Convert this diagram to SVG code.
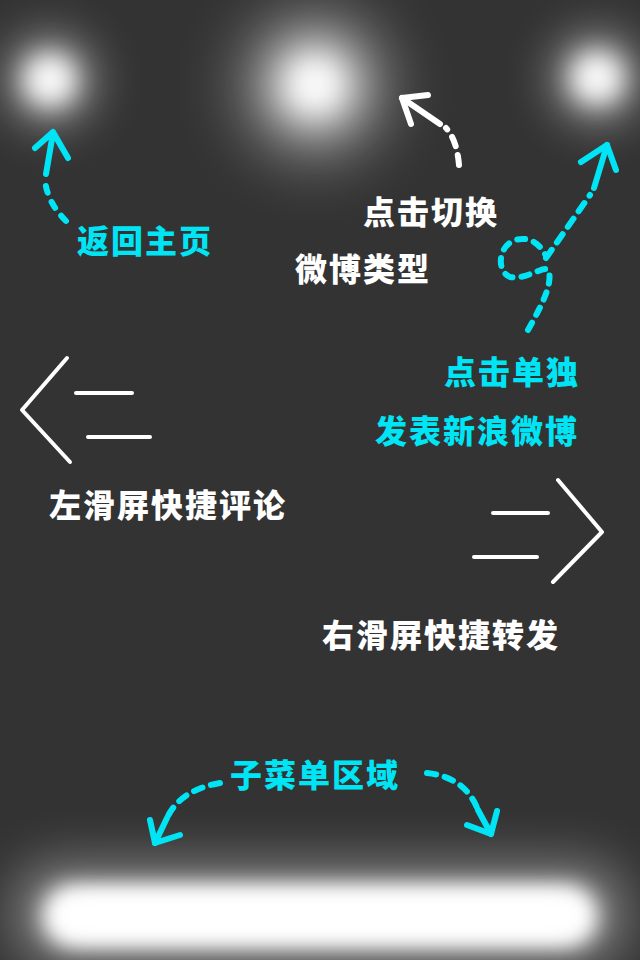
<svg xmlns="http://www.w3.org/2000/svg" width="640" height="960" viewBox="0 0 640 960">
<defs>
<filter id="blurS" x="-200%" y="-200%" width="500%" height="500%"><feGaussianBlur stdDeviation="14"/></filter>
<filter id="blurM" x="-200%" y="-200%" width="500%" height="500%"><feGaussianBlur stdDeviation="22"/></filter>
<filter id="blurL" x="-200%" y="-200%" width="500%" height="500%"><feGaussianBlur stdDeviation="30"/></filter>
<filter id="blurBar" x="-20%" y="-100%" width="140%" height="300%"><feGaussianBlur stdDeviation="11"/></filter>
<filter id="blurHaze" x="-30%" y="-200%" width="160%" height="500%"><feGaussianBlur stdDeviation="25"/></filter>
<style>
.t{font-family:"Noto Sans CJK SC","Noto Sans",sans-serif;font-weight:900;font-size:32px;letter-spacing:2px}
.cy{fill:#00e5f5}
.wh{fill:#ffffff}
.cs{stroke:#00e5f5;stroke-width:6;fill:none;stroke-linecap:round;stroke-linejoin:round}
.ws{stroke:#ffffff;stroke-width:6;fill:none;stroke-linecap:round;stroke-linejoin:round}
.ch{stroke:#ffffff;stroke-width:4;fill:none;stroke-linecap:round;stroke-linejoin:round}
</style>
</defs>
<rect width="640" height="960" fill="#333333"/>
<g id="glows">
<circle cx="50" cy="80" r="50" fill="#fff" opacity="0.35" filter="url(#blurM)"/>
<circle cx="50" cy="80" r="26" fill="#fff" filter="url(#blurS)"/>
<circle cx="50" cy="80" r="12" fill="#fff" filter="url(#blurS)"/>
<circle cx="315" cy="85" r="80" fill="#fff" opacity="0.35" filter="url(#blurL)"/>
<circle cx="315" cy="85" r="40" fill="#fff" filter="url(#blurM)"/>
<circle cx="315" cy="85" r="18" fill="#fff" filter="url(#blurS)"/>
<circle cx="597" cy="78" r="50" fill="#fff" opacity="0.35" filter="url(#blurM)"/>
<circle cx="597" cy="78" r="26" fill="#fff" filter="url(#blurS)"/>
<circle cx="597" cy="78" r="12" fill="#fff" filter="url(#blurS)"/>
<rect x="10" y="860" width="620" height="110" rx="50" fill="#fff" opacity="0.35" filter="url(#blurHaze)"/>
<rect x="42" y="885" width="556" height="62" rx="30" fill="#fff" filter="url(#blurBar)"/>
<rect x="60" y="895" width="520" height="42" rx="20" fill="#fff" filter="url(#blurBar)"/>
</g>
<g id="connectors">
<path class="cs" d="M46,174 L53,133"/>
<path class="cs" d="M35,148 L53,132 L68,158"/>
<path class="cs" d="M66,221 Q47,202 45,180" stroke-dasharray="7 10"/>
<path class="ws" d="M440,124 L402,98"/>
<path class="ws" d="M428,95 L402,98 L411,124"/>
<path class="ws" d="M459,165 Q457,140 446,128" stroke-dasharray="10 9"/>
<path class="cs" d="M594,188 L607,145"/>
<path class="cs" d="M581,162 L607,145 L616,170"/>
<path class="cs" d="M528,330 C542,305 552,285 549,272 C546,262 530,280 510,277 C497,272 497,247 515,240 C530,236 540,244 546,256" stroke-dasharray="8 9"/>
<path class="cs" d="M546,258 L590,195" stroke-dasharray="10 9"/>
<path class="cs" d="M220,783 Q180,790 167,818" stroke-dasharray="9 9"/>
<path class="cs" d="M167,818 L155,843"/>
<path class="cs" d="M150,820 L155,843 L180,835"/>
<path class="cs" d="M427,773 Q465,777 478,810" stroke-dasharray="9 9"/>
<path class="cs" d="M478,810 L491,834"/>
<path class="cs" d="M497,811 L491,834 L467,825"/>
</g>
<g id="swipe-left">
<path class="ch" d="M67,358 L22,410 L70,462"/>
<path class="ch" d="M76,393 L132,393"/>
<path class="ch" d="M88,437 L150,437"/>
</g>
<g id="swipe-right">
<path class="ch" d="M558,480 L602,532 L553,582"/>
<path class="ch" d="M493,513 L548,513"/>
<path class="ch" d="M474,557 L537,557"/>
</g>
<g id="labels">
<text class="t cy" x="77" y="253">返回主页</text>
<text class="t wh" x="363" y="224">点击切换</text>
<text class="t wh" x="295" y="281">微博类型</text>
<text class="t cy" x="444" y="384">点击单独</text>
<text class="t cy" x="375" y="443">发表新浪微博</text>
<text class="t wh" x="49" y="517">左滑屏快捷评论</text>
<text class="t wh" x="322" y="647">右滑屏快捷转发</text>
<text class="t cy" x="230" y="787">子菜单区域</text>
</g>
</svg>
